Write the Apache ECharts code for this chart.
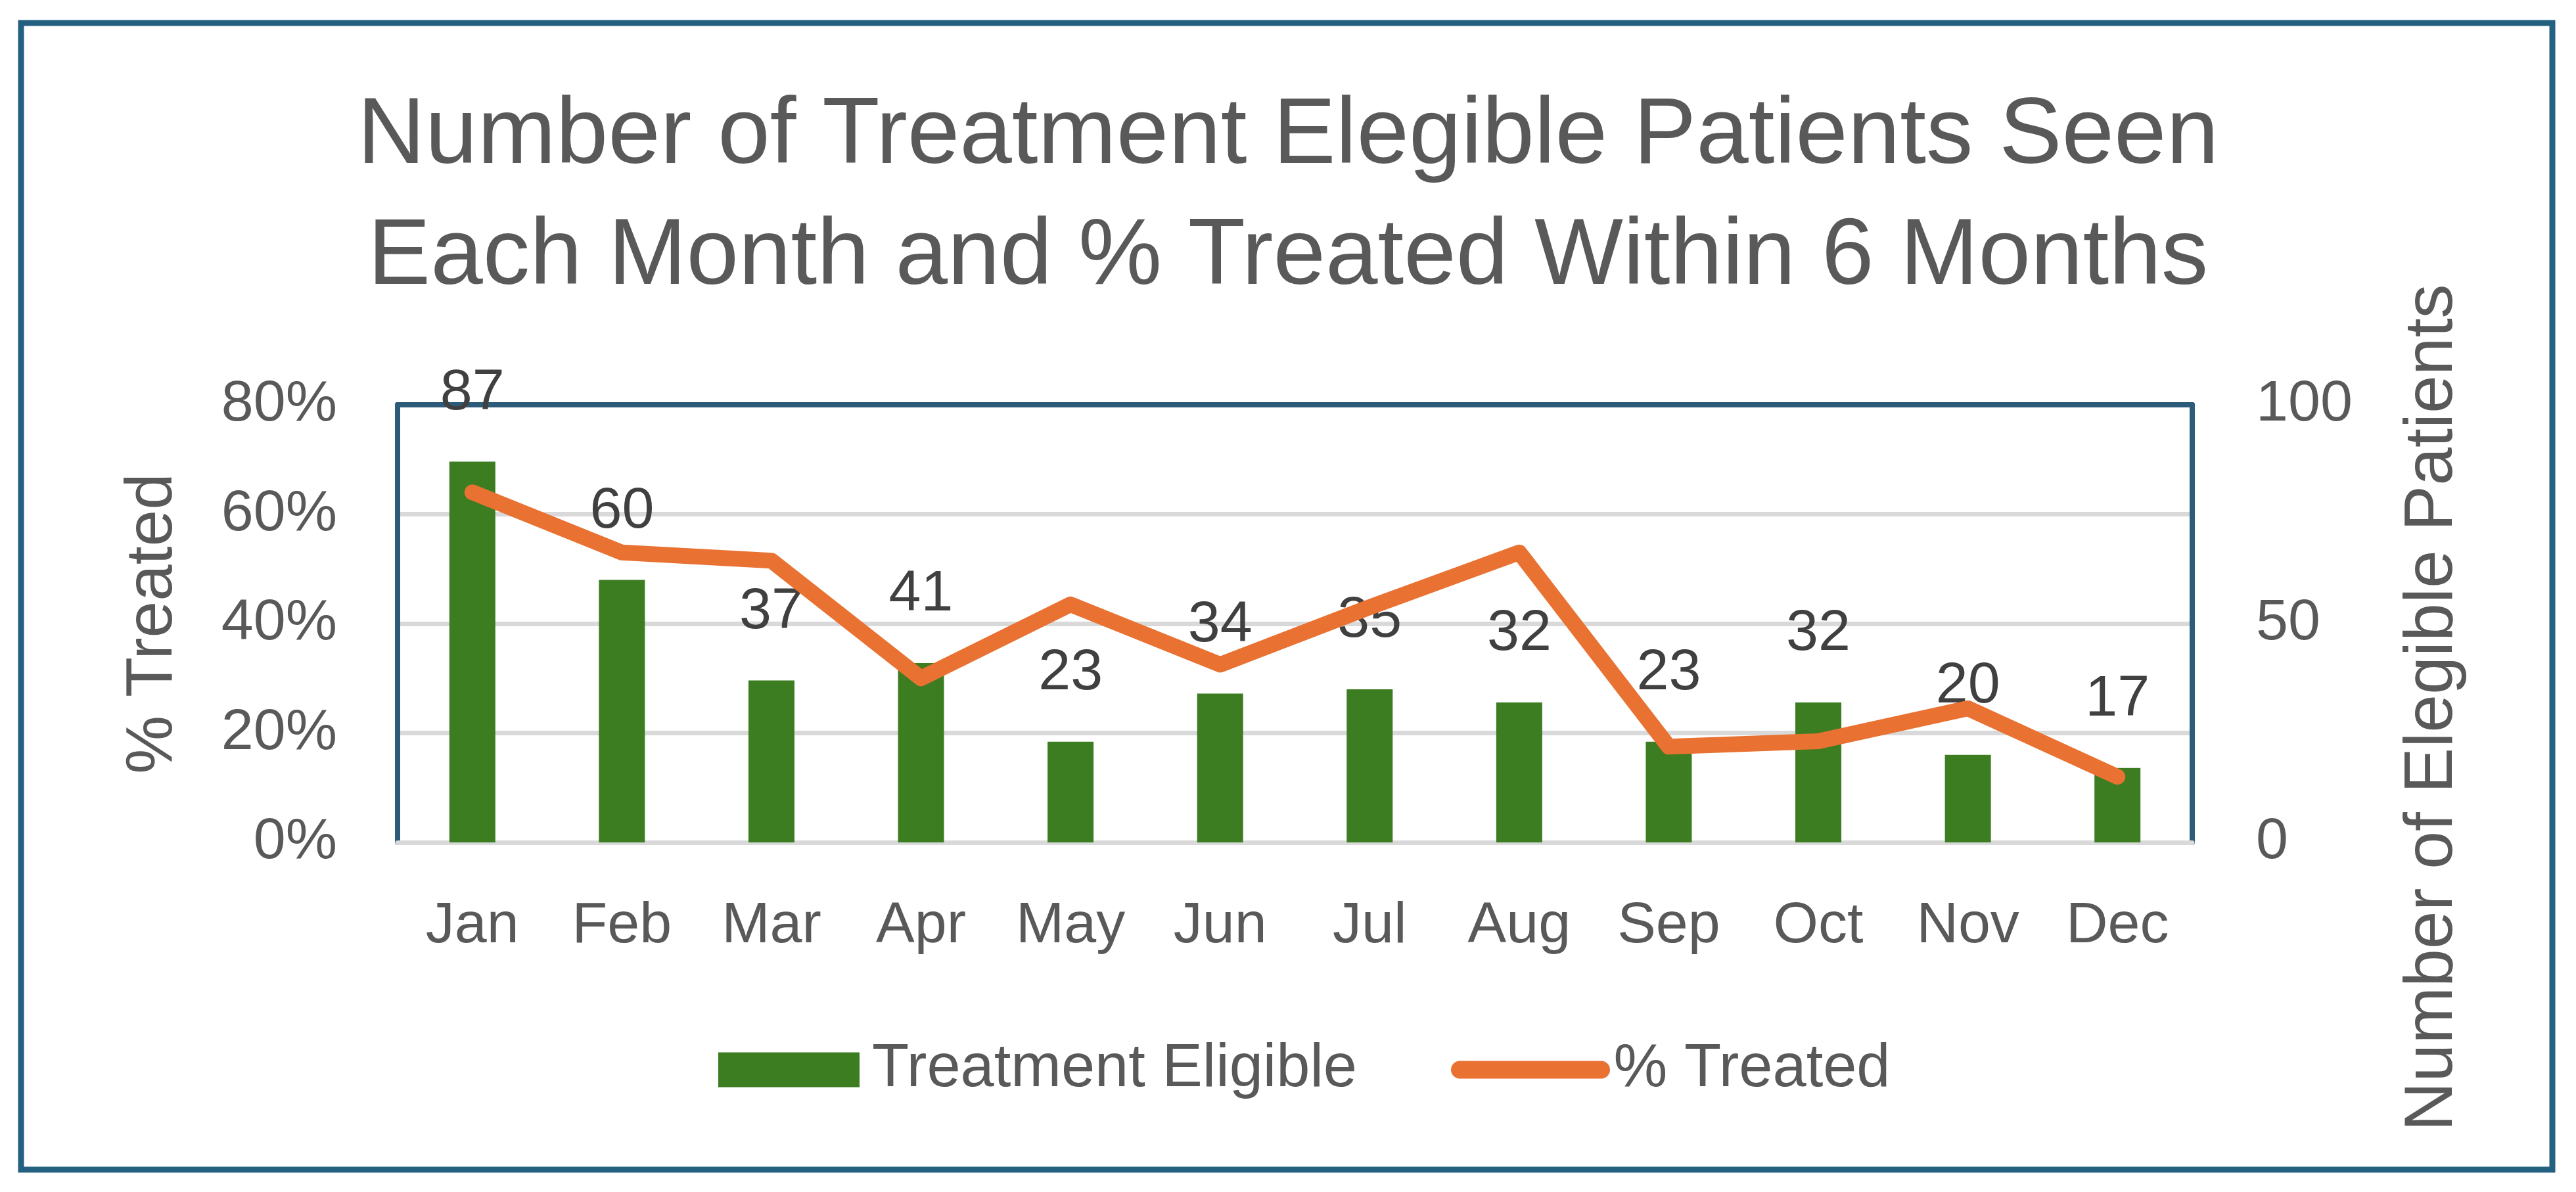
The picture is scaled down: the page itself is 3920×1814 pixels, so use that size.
<!DOCTYPE html>
<html>
<head>
<meta charset="utf-8">
<script src="https://cdn.jsdelivr.net/npm/echarts@6/dist/echarts.min.js"></script>
<style>
  html, body { margin: 0; padding: 0; background: #fff; }
  #chart { width: 3920px; height: 1814px; }
</style>
</head>
<body>
<div id="chart"></div>
<script>
// data
var months = ['Jan', 'Feb', 'Mar', 'Apr', 'May', 'Jun', 'Jul', 'Aug', 'Sep', 'Oct', 'Nov', 'Dec'];
var eligible = [87, 60, 37, 41, 23, 34, 35, 32, 23, 32, 20, 17];
var treatedPct = [0.64, 0.53, 0.515, 0.30, 0.435, 0.325, 0.43, 0.53, 0.175, 0.185, 0.245, 0.12];

var FONT = '"Liberation Sans", Arial, sans-serif';
var GREY_TEXT = '#595959';
var FRAME = '#2C5C7A';
var ORANGE = '#E97132';

var chart = echarts.init(document.getElementById('chart'), null, { renderer: 'canvas' });

chart.setOption({
    backgroundColor: '#ffffff',
    animation: false,
    title: {
        text: 'Number of Treatment Elegible Patients Seen\nEach Month and % Treated Within 6 Months',
        left: 'center',
        top: 112,
        textStyle: {
            fontFamily: FONT,
            fontSize: 143,
            fontWeight: 'normal',
            lineHeight: 184,
            color: GREY_TEXT
        }
    },
    legend: {
        left: 1088,
        top: 1577,
        itemWidth: 215,
        itemHeight: 53,
        itemGap: 143,
        textStyle: {
            fontFamily: FONT,
            fontSize: 92,
            color: GREY_TEXT,
            padding: [0, 0, 0, 14]
        },
        data: [
            { name: 'Treatment Eligible', icon: 'rect' },
            {
                name: '% Treated',
                itemStyle: { opacity: 0 },
                lineStyle: { width: 27, color: ORANGE, cap: 'round' }
            }
        ]
    },
    grid: {
        left: 605,
        right: 584,
        top: 616,
        bottom: 532
    },
    xAxis: [{
        type: 'category',
        data: months,
        axisLine: { show: true, onZero: false, lineStyle: { color: '#D9D9D9', width: 7 } },
        axisTick: { show: false },
        axisLabel: { fontFamily: FONT, fontSize: 88, color: GREY_TEXT, margin: 84 }
    }, {
        // top edge of the plot frame
        type: 'category',
        data: months,
        position: 'top',
        axisLine: { show: true, onZero: false, lineStyle: { color: FRAME, width: 8 } },
        axisTick: { show: false },
        axisLabel: { show: false }
    }],
    yAxis: [{
        type: 'value',
        min: 0,
        max: 0.8,
        interval: 0.2,
        name: '% Treated',
        nameLocation: 'middle',
        nameRotate: 90,
        nameGap: 322,
        nameTextStyle: { fontFamily: FONT, fontSize: 100, color: GREY_TEXT },
        axisLine: { show: true, lineStyle: { color: FRAME, width: 8 } },
        axisTick: { show: false },
        axisLabel: {
            fontFamily: FONT, fontSize: 88, color: GREY_TEXT, margin: 92,
            formatter: function (v) { return Math.round(v * 100) + '%'; }
        },
        splitLine: { show: true, showMaxLine: false, lineStyle: { color: '#D9D9D9', width: 7 } }
    }, {
        type: 'value',
        min: 0,
        max: 100,
        interval: 50,
        position: 'right',
        name: 'Number of Elegible Patients',
        nameLocation: 'middle',
        nameRotate: 90,
        nameGap: 314,
        nameTextStyle: {
            fontFamily: FONT, fontSize: 104, color: GREY_TEXT,
            padding: [0, 256, 0, 0]
        },
        axisLine: { show: true, lineStyle: { color: FRAME, width: 8 } },
        axisTick: { show: false },
        axisLabel: { fontFamily: FONT, fontSize: 88, color: GREY_TEXT, margin: 97 },
        splitLine: { show: false }
    }],
    series: [{
        name: 'Treatment Eligible',
        type: 'bar',
        yAxisIndex: 1,
        data: eligible,
        barWidth: 70,
        itemStyle: { color: '#3C7D22' },
        label: {
            show: true,
            position: 'top',
            distance: 60,
            fontFamily: FONT,
            fontSize: 88,
            color: '#404040'
        }
    }, {
        name: '% Treated',
        type: 'line',
        yAxisIndex: 0,
        data: treatedPct,
        z: 5,
        symbol: 'none',
        lineStyle: { color: ORANGE, width: 24, cap: 'round', join: 'round' },
        itemStyle: { color: ORANGE }
    }],
    graphic: [{
        // outer chart frame
        type: 'rect',
        shape: { x: 32, y: 35, width: 3852, height: 1745 },
        style: { fill: 'none', stroke: '#24607F', lineWidth: 9 },
        silent: true
    }]
});
</script>
</body>
</html>
